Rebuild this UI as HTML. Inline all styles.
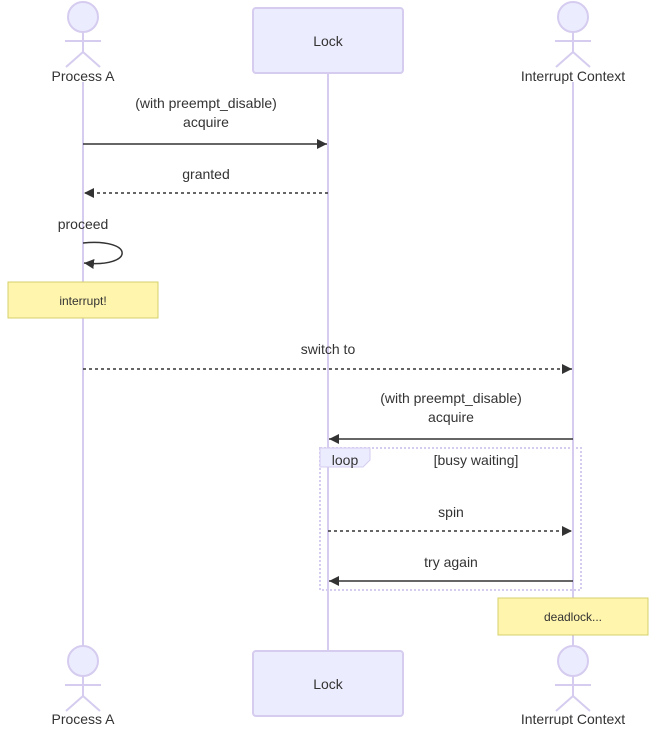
<!DOCTYPE html>
<html><head><meta charset="utf-8"><style>
body{margin:0;background:#fff}
text{font-family:"Liberation Sans",sans-serif;fill:#333}
</style></head><body>
<svg width="656" height="725" viewBox="0 0 656 725" xmlns="http://www.w3.org/2000/svg">
<defs>
<marker id="a" markerWidth="12" markerHeight="12" refX="10" refY="5" orient="auto" markerUnits="userSpaceOnUse"><path d="M0,0 L10,5 L0,10 z" fill="#333"/></marker>
</defs>
<g stroke="#d5ccef" stroke-width="2">
<line x1="83" y1="82" x2="83" y2="650"/>
<line x1="328" y1="73" x2="328" y2="651"/>
<line x1="573" y1="82" x2="573" y2="650"/>
</g>
<g fill="#ececff" stroke="#d5ccef" stroke-width="2">
<rect x="253" y="8" width="150" height="65" rx="3"/>
<rect x="253" y="651" width="150" height="65" rx="3"/>
</g>
<text x="328" y="46" font-size="14" text-anchor="middle">Lock</text>
<text x="328" y="689" font-size="14" text-anchor="middle">Lock</text>
<g fill="#ececff" stroke="#d5ccef" stroke-width="2">
<g id="act"><circle cx="83" cy="17" r="15"/><line x1="65" y1="41" x2="101" y2="41" fill="none"/><line x1="83" y1="32" x2="83" y2="52"/><line x1="83" y1="52" x2="66" y2="67"/><line x1="83" y1="52" x2="100" y2="67"/></g>
<use href="#act" x="490"/>
<use href="#act" y="644"/>
<use href="#act" x="490" y="644"/>
</g>
<g font-size="14" text-anchor="middle">
<text x="83" y="81">Process A</text>
<text x="573" y="81">Interrupt Context</text>
<text x="83" y="724">Process A</text>
<text x="573" y="724">Interrupt Context</text>
<text x="206" y="108">(with preempt_disable)</text>
<text x="206" y="127">acquire</text>
<text x="206" y="179">granted</text>
<text x="83" y="229">proceed</text>
<text x="328" y="354">switch to</text>
<text x="451" y="403">(with preempt_disable)</text>
<text x="451" y="422">acquire</text>
<text x="451" y="517">spin</text>
<text x="451" y="567">try again</text>
<text x="476" y="465">[busy waiting]</text>
<text x="345" y="465">loop</text>
</g>
<g stroke="#333" stroke-width="1.5" fill="none">
<line x1="83" y1="144" x2="327" y2="144" marker-end="url(#a)"/>
<line x1="328" y1="193" x2="84" y2="193" stroke-dasharray="3,3" marker-end="url(#a)"/>
<path d="M83,243 C135,238 135,268 84,263" marker-end="url(#a)"/>
<line x1="83" y1="369" x2="572" y2="369" stroke-dasharray="3,3" marker-end="url(#a)"/>
<line x1="573" y1="439" x2="329" y2="439" marker-end="url(#a)"/>
<line x1="328" y1="531" x2="572" y2="531" stroke-dasharray="3,3" marker-end="url(#a)"/>
<line x1="573" y1="581" x2="329" y2="581" marker-end="url(#a)"/>
</g>
<rect x="320" y="448" width="261" height="142" fill="none" stroke="#d5ccef" stroke-width="2" stroke-dasharray="2,2"/>
<path d="M320,448 H370 V460 L363,467 H320 Z" fill="#ececff" stroke="#d5ccef"/>
<text x="345" y="465" font-size="14" text-anchor="middle">loop</text>
<rect x="8" y="282" width="150" height="36" fill="#fff5ad" stroke="#d6d06a"/>
<text x="83" y="305" font-size="12" text-anchor="middle">interrupt!</text>
<rect x="498" y="598" width="150" height="37" fill="#fff5ad" stroke="#d6d06a"/>
<text x="573" y="621" font-size="12" text-anchor="middle">deadlock...</text>
</svg>
</body></html>
